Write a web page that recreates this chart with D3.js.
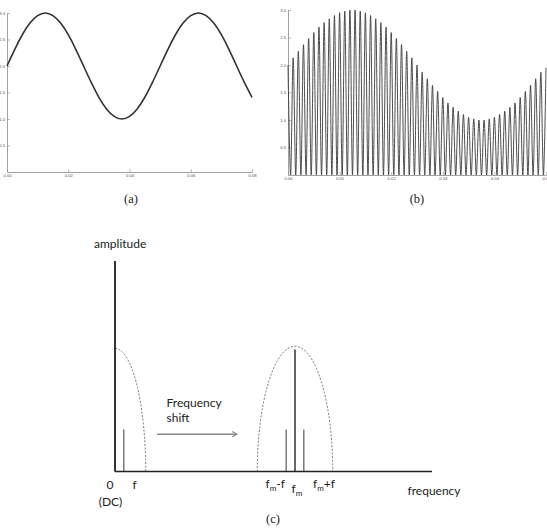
<!DOCTYPE html>
<html><head><meta charset="utf-8">
<script src="https://cdn.jsdelivr.net/npm/d3@7"></script>
<style>body{margin:0;background:#fff}</style>
</head><body><svg id="c" width="547" height="528"></svg>
<script>
// ---------- Panel (a): message signal, sampled every 0.0025 s ----------
const aStep = 0.0025;
const aValues = [2.00,2.31,2.59,2.81,2.95,3.00,2.95,2.81,2.59,2.31,
                 2.00,1.69,1.41,1.19,1.05,1.00,1.05,1.19,1.41,1.69,
                 2.00,2.31,2.59,2.81,2.95,3.00,2.95,2.81,2.59,2.31,
                 2.00,1.69,1.41];
const aXTicks = [0,0.02,0.04,0.06,0.08];
const aYTicks = [0.5,1.0,1.5,2.0,2.5,3.0];

// ---------- Panel (b): modulated carrier, peak heights per carrier cycle ----------
const bPeriod = 0.001;
const bPeaks = [2.00,2.13,2.25,2.37,2.48,2.59,2.69,2.77,2.84,2.90,
                2.95,2.98,3.00,3.00,2.98,2.95,2.90,2.84,2.77,2.69,
                2.59,2.48,2.37,2.25,2.13,2.00,1.87,1.75,1.63,1.52,
                1.41,1.31,1.23,1.16,1.10,1.05,1.02,1.00,1.00,1.02,
                1.05,1.10,1.16,1.23,1.31,1.41,1.52,1.63,1.75,1.87,1.95];
const bTrough = 0;
const bXTicks = [0,0.01,0.02,0.03,0.04,0.05];
const bYTicks = [0.5,1.0,1.5,2.0,2.5,3.0];

// ---------- Panel (c): spectrum ----------
const specLabels = ["0","f","fm-f","fm","fm+f"];
const specPos = [0, 1, 19.5, 20.5, 21.5];
const specAmp = [1.0, 0.2, 0.2, 0.58, 0.2];
const envCenters = [0, 20.5];
const envHalfWidths = [3.5, 4.3];
const envHeights = [0.585, 0.595];
const freqMax = 36.1;

const svg = d3.select("#c");
svg.append("rect").attr("width",547).attr("height",528).attr("fill","#fff");

function drawAxes(g, x, y, xTicks, yTicks, xMinorStep, yMinorStep, fmtX, fmtY) {
  const [x0,x1] = x.domain(), [y0,y1] = y.domain();
  const xMinor = d3.range(x0, x1 + 1e-9, xMinorStep);
  const yMinor = d3.range(y0, y1 + 1e-9, yMinorStep);
  const ax = g.append("g").attr("transform",`translate(0,${y(0)})`);
  ax.call(d3.axisBottom(x).tickValues(xMinor).tickSizeInner(-1.5).tickSizeOuter(0).tickFormat(""));
  ax.call(d3.axisBottom(x).tickValues(xTicks).tickSizeInner(-3).tickSizeOuter(0).tickPadding(2).tickFormat(fmtX));
  const ay = g.append("g").attr("transform",`translate(${x(0)},0)`);
  ay.call(d3.axisLeft(y).tickValues(yMinor).tickSizeInner(-1.5).tickSizeOuter(0).tickFormat(""));
  ay.call(d3.axisLeft(y).tickValues(yTicks).tickSizeInner(-3).tickSizeOuter(0).tickPadding(2).tickFormat(fmtY));
  g.selectAll(".domain").attr("stroke","#8a8a8a").attr("stroke-width",0.8);
  g.selectAll(".tick line").attr("stroke","#8a8a8a").attr("stroke-width",0.6);
  g.selectAll(".tick text").attr("fill","#555").attr("font-size",4.2).attr("font-family","Liberation Sans");
}

// Panel (a)
const xA = d3.scaleLinear([0,0.08],[7,252]);
const yA = d3.scaleLinear([0,3],[172,13]);
const gA = svg.append("g");
drawAxes(gA, xA, yA, aXTicks, aYTicks, 0.005, 0.1, d3.format(".2f"), d3.format(".1f"));
gA.append("path")
  .attr("d", d3.line().x((d,i)=>xA(i*aStep)).y(d=>yA(d)).curve(d3.curveNatural)(aValues))
  .attr("fill","none").attr("stroke","#333").attr("stroke-width",1.6);

// Panel (b)
const xB = d3.scaleLinear([0,0.05],[288,546]);
const yB = d3.scaleLinear([0,3],[175,10]);
const gB = svg.append("g");
drawAxes(gB, xB, yB, bXTicks, bYTicks, 0.0025, 0.1, d3.format(".2f"), d3.format(".1f"));
const bPts = [];
bPeaks.forEach((v,k)=>{
  bPts.push([k*bPeriod, v]);
  if (k < bPeaks.length-1) bPts.push([(k+0.5)*bPeriod, bTrough]);
});
gB.append("path")
  .attr("d", d3.line().x(d=>xB(d[0])).y(d=>yB(d[1])).curve(d3.curveCatmullRom)(bPts))
  .attr("fill","none").attr("stroke","#3a3a3a").attr("stroke-width",0.9);

// captions
const cap = [["(a)",131,203],["(b)",417,203],["(c)",273,523]];
svg.selectAll("text.cap").data(cap).join("text").attr("class","cap")
  .attr("x",d=>d[1]).attr("y",d=>d[2]).attr("text-anchor","middle")
  .attr("font-family","Liberation Serif").attr("font-size",12.5).attr("fill","#222").text(d=>d[0]);

// Panel (c)
const xC = d3.scaleLinear([0,freqMax],[115,432]);
const yC = d3.scaleLinear([0,1],[471.5,261]);
const gC = svg.append("g");
// envelopes (dashed)
envCenters.forEach((c,i)=>{
  const rx = xC(c+envHalfWidths[i]) - xC(c);
  const ry = yC(0) - yC(envHeights[i]);
  let d;
  if (c === 0) {
    d = `M${xC(c)},${yC(envHeights[i])} A${rx},${ry} 0 0 1 ${xC(c+envHalfWidths[i])},${yC(0)}`;
  } else {
    d = `M${xC(c-envHalfWidths[i])},${yC(0)} A${rx},${ry} 0 0 1 ${xC(c)},${yC(envHeights[i])} A${rx},${ry} 0 0 1 ${xC(c+envHalfWidths[i])},${yC(0)}`;
  }
  gC.append("path").attr("d",d).attr("fill","none").attr("stroke","#666")
    .attr("stroke-width",0.9).attr("stroke-dasharray","2,1.6");
});
// spectral lines
gC.selectAll("line.spec").data(specPos).join("line").attr("class","spec")
  .attr("x1",d=>xC(d)).attr("x2",d=>xC(d))
  .attr("y1",yC(0)).attr("y2",(d,i)=>yC(specAmp[i]))
  .attr("stroke",(d,i)=> i===0 ? "#333" : (i===3 ? "#555" : "#7a7a7a"))
  .attr("stroke-width",(d,i)=> i===0 ? 2 : (i===3 ? 1.8 : 1.5));
// baseline
gC.append("line").attr("x1",xC(0)).attr("x2",xC(freqMax)).attr("y1",yC(0)).attr("y2",yC(0))
  .attr("stroke","#222").attr("stroke-width",1.5);

// arrow
const defs = svg.append("defs");
defs.append("marker").attr("id","ah").attr("viewBox","0 0 10 10").attr("refX",8).attr("refY",5)
  .attr("markerWidth",7).attr("markerHeight",7).attr("orient","auto").attr("markerUnits","userSpaceOnUse")
  .append("path").attr("d","M1,1 L8,5 L1,9").attr("fill","none").attr("stroke","#888").attr("stroke-width",1.6);
gC.append("line").attr("x1",xC(4.8)).attr("x2",xC(13.9)).attr("y1",yC(0.177)).attr("y2",yC(0.177))
  .attr("stroke","#888").attr("stroke-width",1.5).attr("marker-end","url(#ah)");

const font = "Lato, 'Open Sans', sans-serif";
function txt(s,x,y,anchor){
  return svg.append("text").attr("x",x).attr("y",y).attr("text-anchor",anchor||"start")
    .attr("font-family",font).attr("font-size",12).attr("fill","#222").text(s);
}
txt("amplitude",94,248);
txt("Frequency",166.5,406.5);
txt("shift",166.5,421.5);
txt("frequency",407.5,495);
txt("0",110,489,"middle");
txt("(DC)",110.5,505.5,"middle");
txt("f",134.5,489,"middle");
function subLabel(x,y,pre,post){
  const t = svg.append("text").attr("x",x).attr("y",y).attr("font-family",font).attr("font-size",12).attr("fill","#222");
  t.append("tspan").text(pre);
  t.append("tspan").attr("font-size",8).attr("dy",3).text("m");
  if (post) t.append("tspan").attr("dy",-3).text(post);
}
subLabel(265.5,488,"f","-f");
subLabel(291.5,493,"f","");
subLabel(313,488,"f","+f");
</script></body></html>
